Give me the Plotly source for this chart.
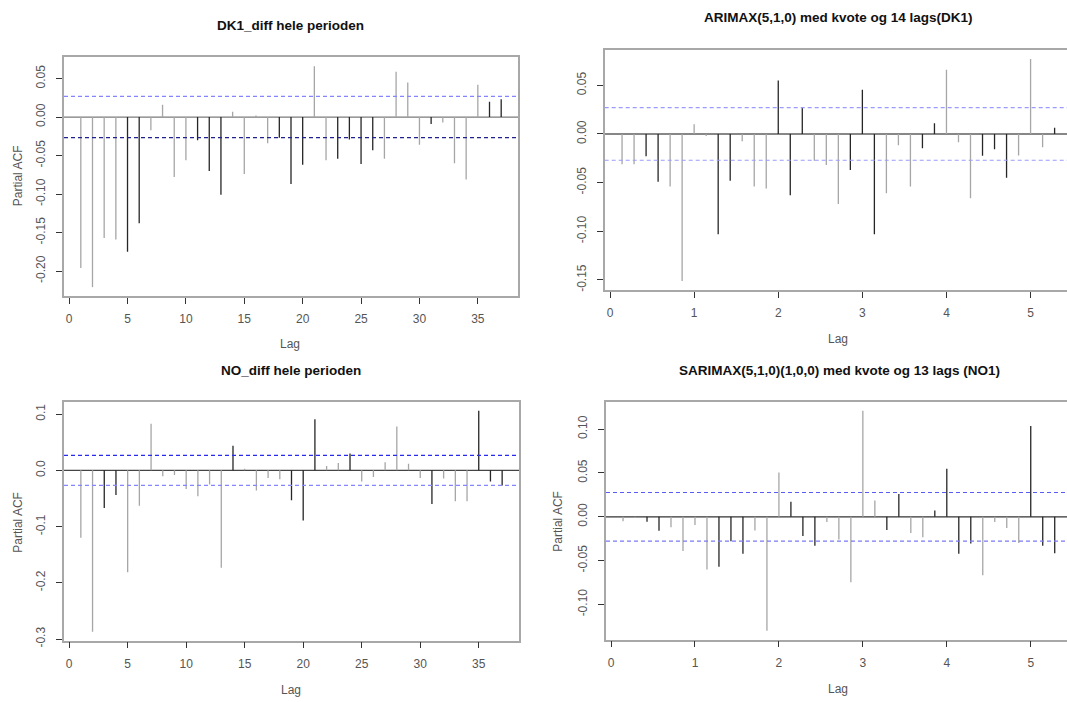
import numpy as np
import plotly.graph_objects as go

W, H = 1067, 702

# ---------------- data ----------------
lags_int = list(range(1, 38))
lags_week = [k / 7 for k in range(1, 38)]

dk1_pacf = [-0.196, -0.221, -0.157, -0.159, -0.175, -0.138, -0.017, 0.016, -0.078, -0.056,
            -0.030, -0.070, -0.101, 0.007, -0.074, 0.002, -0.034, -0.027, -0.087, -0.062,
            0.066, -0.056, -0.054, -0.029, -0.061, -0.043, -0.054, 0.059, 0.045, -0.036,
            -0.009, -0.007, -0.060, -0.081, 0.042, 0.020, 0.023]

arimax_pacf = [-0.031, -0.031, -0.023, -0.049, -0.054, -0.151, 0.010, -0.002, -0.103, -0.048,
               -0.0075, -0.054, -0.056, 0.055, -0.063, 0.0275, -0.0275, -0.032, -0.072, -0.037,
               0.0455, -0.103, -0.061, -0.0115, -0.054, -0.0146, 0.011, 0.066, -0.0085, -0.066,
               -0.0225, -0.0156, -0.045, -0.022, 0.077, -0.0136, 0.0065]

no_pacf = [-0.120, -0.287, -0.067, -0.044, -0.181, -0.063, 0.083, -0.0105, -0.0082, -0.033,
           -0.046, -0.025, -0.173, 0.044, 0.003, -0.036, -0.0135, -0.016, -0.053, -0.089,
           0.091, 0.0076, 0.013, 0.030, -0.020, -0.0117, 0.0146, 0.078, 0.0117, -0.0135,
           -0.060, -0.0146, -0.055, -0.055, 0.106, -0.020, -0.027]

sarimax_pacf = [-0.005, -0.001, -0.0057, -0.016, -0.012, -0.039, -0.0094, -0.060, -0.057, -0.028,
                -0.042, -0.0155, -0.130, 0.0505, 0.0173, -0.022, -0.033, -0.006, -0.026, -0.0746,
                0.121, 0.0185, -0.015, 0.026, -0.0185, -0.0234, 0.0072, 0.0547, -0.042, -0.0305,
                -0.0667, -0.006, -0.0128, -0.030, 0.1037, -0.033, -0.0415]

conf_dk1 = 0.0268
conf_arimax = 0.027
conf_no = 0.0268
conf_sarimax = 0.0277

titles = ["DK1_diff hele perioden",
          "ARIMAX(5,1,0) med kvote og 14 lags(DK1)",
          "NO_diff hele perioden",
          "SARIMAX(5,1,0)(1,0,0) med kvote og 13 lags (NO1)"]

x_ticks_int = [0, 5, 10, 15, 20, 25, 30, 35]
x_ticks_week = [0, 1, 2, 3, 4, 5]
y_ticks_dk1 = [0.05, 0.0, -0.05, -0.10, -0.15, -0.20]
y_text_dk1 = ["0.05", "0.00", "-0.05", "-0.10", "-0.15", "-0.20"]
y_ticks_arimax = [0.05, 0.0, -0.05, -0.10, -0.15]
y_text_arimax = ["0.05", "0.00", "-0.05", "-0.10", "-0.15"]
y_ticks_no = [0.1, 0.0, -0.1, -0.2, -0.3]
y_text_no = ["0.1", "0.0", "-0.1", "-0.2", "-0.3"]
y_ticks_sarimax = [0.10, 0.05, 0.0, -0.05, -0.10]
y_text_sarimax = ["0.10", "0.05", "0.00", "-0.05", "-0.10"]

# ---------------- styles (resampling shade per spike: 1 = dark) ----------------
shade_dk1 = [0,0,0,0,1,1,0,0,0,0, 1,1,1,0,0,0,0,1,1,1, 0,0,1,1,1,1,0,0,0,0, 1,0,0,0,0,1,1]
shade_arimax = [0,0,1,1,0,0,0,0,1,1, 0,0,0,1,1,1,0,0,0,1, 1,1,0,0,0,1,1,0,0,0, 1,1,1,0,0,0,1]
shade_no = [0,0,1,1,0,0,0,0,0,0, 0,0,0,1,0,0,0,0,1,1, 1,0,0,1,0,0,0,0,0,0, 1,0,0,0,1,1,1]
shade_sarimax = [0,0,1,1,0,0,0,0,1,1, 1,0,0,0,1,1,1,0,0,0, 0,0,1,1,0,0,1,1,1,1, 0,0,0,0,1,1,1]

DARK = "#262626"
LIGHT = "#a6a6a6"
FRAME = "#a8a8a8"
FONT = "Liberation Sans, Arial, sans-serif"

fig = go.Figure()


def px_x(p):
    return p / W


def px_y(p):
    return 1 - p / H


panels = [
    dict(lags=lags_int, vals=dk1_pacf, shade=shade_dk1, conf=conf_dk1,
         xdom=[px_x(64), px_x(518)], ydom=[px_y(299), px_y(58)],
         xr=[-0.44, 38.44], yr=[-0.2325, 0.0775],
         xt=x_ticks_int, yt=y_ticks_dk1, ytt=y_text_dk1,
         mirror_y=True, zero="#7a7a7a", cu="#8585ff", cl="#202090",
         title=titles[0], tx=290, ty=26, ylab=(18, 178), xlab=(290, 347)),
    dict(lags=lags_week, vals=arimax_pacf, shade=shade_arimax, conf=conf_arimax,
         xdom=[px_x(604.7), 1.0], ydom=[px_y(292.7), px_y(50.7)],
         xr=[-0.0635, 5.433], yr=[-0.1601, 0.0861],
         xt=x_ticks_week, yt=y_ticks_arimax, ytt=y_text_arimax,
         mirror_y=False, zero="#111111", cu="#9a9aff", cl="#9a9aff",
         title=titles[1], tx=838, ty=18, ylab=None, xlab=(838, 342)),
    dict(lags=lags_int, vals=no_pacf, shade=shade_no, conf=conf_no,
         xdom=[px_x(64), px_x(519)], ydom=[px_y(647), px_y(406)],
         xr=[-0.44, 38.44], yr=[-0.3027, 0.1217],
         xt=x_ticks_int, yt=y_ticks_no, ytt=y_text_no,
         mirror_y=True, zero="#444444", cu="#2a2aee", cl="#8585ff",
         title=titles[2], tx=291, ty=374, ylab=(18, 528), xlab=(291, 697)),
    dict(lags=lags_week, vals=sarimax_pacf, shade=shade_sarimax, conf=conf_sarimax,
         xdom=[px_x(606), 1.0], ydom=[px_y(646), px_y(406)],
         xr=[-0.06, 5.432], yr=[-0.140, 0.131],
         xt=x_ticks_week, yt=y_ticks_sarimax, ytt=y_text_sarimax,
         mirror_y=False, zero="#333333", cu="#5a5af5", cl="#7a7af8",
         title=titles[3], tx=839, ty=374, ylab=(558, 527), xlab=(838, 696)),
]

annotations = []
shapes = []

for i, p in enumerate(panels, start=1):
    xa = "x" if i == 1 else f"x{i}"
    ya = "y" if i == 1 else f"y{i}"

    # zero line
    shapes.append(dict(type="line", xref=f"{xa} domain", yref=ya, x0=0, x1=1, y0=0, y1=0,
                       line=dict(color=p["zero"], width=1.2), layer="below"))
    # confidence bounds
    shapes.append(dict(type="line", xref=f"{xa} domain", yref=ya, x0=0, x1=1,
                       y0=p["conf"], y1=p["conf"],
                       line=dict(color=p["cu"], width=1.2, dash="4px,3px")))
    shapes.append(dict(type="line", xref=f"{xa} domain", yref=ya, x0=0, x1=1,
                       y0=-p["conf"], y1=-p["conf"],
                       line=dict(color=p["cl"], width=1.2, dash="4px,3px")))

    for shade_val, col in ((0, LIGHT), (1, DARK)):
        xs, ys = [], []
        for lag, v, s in zip(p["lags"], p["vals"], p["shade"]):
            if s == shade_val:
                xs += [lag, lag, None]
                ys += [0, v, None]
        fig.add_trace(go.Scatter(x=xs, y=ys, mode="lines", xaxis=xa, yaxis=ya,
                                 line=dict(color=col, width=1.3), showlegend=False,
                                 hoverinfo="skip"))

    axis_x = dict(domain=p["xdom"], range=p["xr"], anchor=ya,
                  showgrid=False, zeroline=False,
                  showline=True, mirror=True, linecolor=FRAME, linewidth=1.6,
                  ticks="outside", ticklen=6, tickwidth=1.2, tickcolor="#333333",
                  tickvals=p["xt"], ticktext=[str(t) for t in p["xt"]],
                  ticklabelstandoff=5,
                  tickfont=dict(family=FONT, size=12, color="#555555"))
    axis_y = dict(domain=p["ydom"], range=p["yr"], anchor=xa,
                  showgrid=False, zeroline=False,
                  showline=True, mirror=p["mirror_y"], linecolor=FRAME, linewidth=1.6,
                  ticks="outside", ticklen=6, tickwidth=1.2, tickcolor="#333333",
                  tickvals=p["yt"], ticktext=p["ytt"], tickangle=-90,
                  ticklabelstandoff=6,
                  tickfont=dict(family=FONT, size=12, color="#555555"))
    key = "" if i == 1 else str(i)
    fig.update_layout(**{f"xaxis{key}": axis_x, f"yaxis{key}": axis_y})

    annotations.append(dict(text=f"<b>{p['title']}</b>", xref="paper", yref="paper",
                            x=px_x(p["tx"]), y=px_y(p["ty"]), xanchor="center", yanchor="middle",
                            showarrow=False, font=dict(family=FONT, size=13.5, color="#111111")))
    annotations.append(dict(text="Lag", xref="paper", yref="paper",
                            x=px_x(p["xlab"][0]), y=px_y(p["xlab"][1]),
                            xanchor="center", yanchor="middle",
                            showarrow=False, font=dict(family=FONT, size=12, color="#555555")))
    if p["ylab"] is not None:
        annotations.append(dict(text="Partial ACF", xref="paper", yref="paper",
                                x=px_x(p["ylab"][0]), y=px_y(p["ylab"][1]),
                                xanchor="center", yanchor="middle", textangle=-90,
                                showarrow=False, font=dict(family=FONT, size=12, color="#555555")))

fig.update_layout(width=W, height=H, margin=dict(l=0, r=0, t=0, b=0),
                  paper_bgcolor="white", plot_bgcolor="white",
                  annotations=annotations, shapes=shapes, showlegend=False)

fig.write_html("out.html")
